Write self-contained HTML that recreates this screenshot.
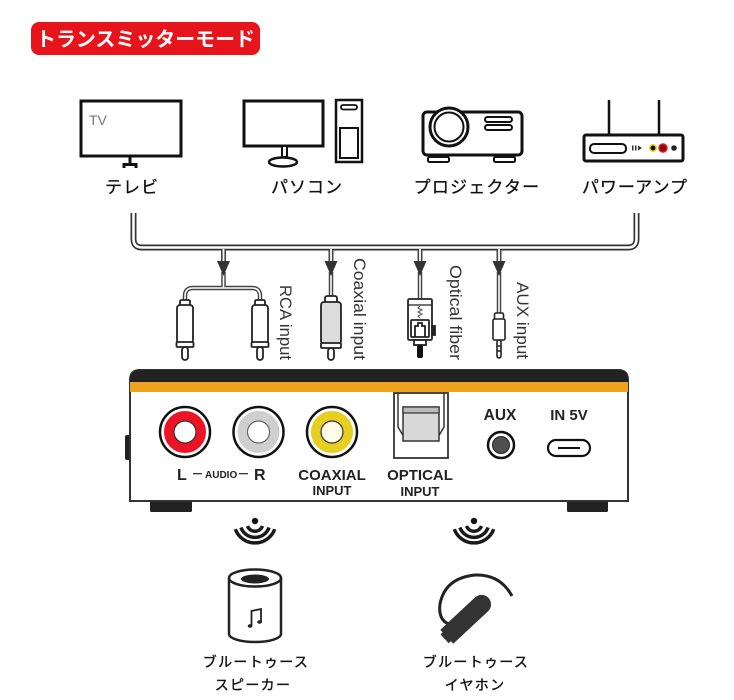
<!DOCTYPE html>
<html><head><meta charset="utf-8"><style>
html,body{margin:0;padding:0;background:#fff;}
svg{display:block;}
.jp{font-family:"Liberation Sans","Noto Sans CJK JP",sans-serif;}
.en{font-family:"Liberation Sans",sans-serif;}
</style></head><body>
<svg width="734" height="700" viewBox="0 0 734 700" xmlns="http://www.w3.org/2000/svg">
<rect width="734" height="700" fill="#fff"/>

<!-- Title -->
<rect x="31" y="22" width="229" height="33" rx="8" fill="#e8141b"/>
<text x="36" y="46" class="jp" font-size="20" font-weight="bold" fill="#fff" textLength="219" lengthAdjust="spacingAndGlyphs">トランスミッターモード</text>

<!-- TV -->
<rect x="81" y="101" width="100" height="55" fill="#fff" stroke="#111" stroke-width="3"/>
<text x="89" y="125" class="en" font-size="14" fill="#777">TV</text>
<path d="M130,157 V164 M124,168 V164.5 H136 V168" fill="none" stroke="#111" stroke-width="3"/>
<g class="jp" font-size="17" fill="#111" stroke="#111" stroke-width="0.3" text-anchor="middle" letter-spacing="1">
<text x="132" y="193">テレビ</text>
<text x="307" y="193">パソコン</text>
<text x="477" y="193" letter-spacing="1.2">プロジェクター</text>
<text x="635" y="193">パワーアンプ</text>
</g>

<!-- PC -->
<rect x="244" y="101" width="79" height="45" fill="#fff" stroke="#111" stroke-width="3"/>
<rect x="282" y="146" width="5" height="11" fill="#fff" stroke="#111" stroke-width="2"/>
<ellipse cx="283" cy="162" rx="14" ry="4.5" fill="#fff" stroke="#111" stroke-width="2.5"/>
<rect x="336" y="100" width="26" height="62" fill="#fff" stroke="#111" stroke-width="2.5"/>
<rect x="341" y="105" width="16" height="4.5" rx="2" fill="#fff" stroke="#111" stroke-width="1.8"/>
<rect x="340" y="128" width="18" height="30" fill="#fff" stroke="#111" stroke-width="2"/>

<!-- Projector -->
<rect x="423" y="112" width="99" height="43" rx="4" fill="#fff" stroke="#111" stroke-width="3"/>
<circle cx="449" cy="127" r="19" fill="#fff" stroke="#111" stroke-width="3"/>
<circle cx="449" cy="127" r="14.5" fill="#fff" stroke="#111" stroke-width="2"/>
<rect x="485" y="117" width="27" height="5" rx="2.5" fill="#fff" stroke="#111" stroke-width="2"/>
<rect x="485" y="125" width="27" height="5" rx="2.5" fill="#fff" stroke="#111" stroke-width="2"/>
<rect x="428" y="157" width="21" height="5" rx="1.5" fill="#fff" stroke="#111" stroke-width="2"/>
<rect x="494" y="157" width="21" height="5" rx="1.5" fill="#fff" stroke="#111" stroke-width="2"/>

<!-- Amp -->
<line x1="609" y1="100" x2="609" y2="135" stroke="#111" stroke-width="2.5"/>
<line x1="659" y1="100" x2="659" y2="135" stroke="#111" stroke-width="2.5"/>
<rect x="584" y="135" width="99" height="26" rx="2" fill="#fff" stroke="#111" stroke-width="3"/>
<rect x="590" y="144" width="36" height="9" rx="4" fill="#fff" stroke="#111" stroke-width="2"/>
<rect x="632" y="145.5" width="1.5" height="5" fill="#333"/>
<rect x="635" y="145.5" width="1.5" height="5" fill="#333"/>
<path d="M638,145.5 L642,148 L638,150.5 Z" fill="#333"/>
<circle cx="653" cy="148" r="3.3" fill="#111" stroke="#f0e020" stroke-width="1.6"/>
<circle cx="663" cy="148" r="3.8" fill="#7a0010" stroke="#e01020" stroke-width="1.8"/>
<circle cx="674" cy="148" r="2.8" fill="#222"/>

<!-- Bracket pipe -->
<g fill="none" stroke-linecap="butt">
  <path d="M133.5,213 V239 Q133.5,247.5 142,247.5 H628 Q636.5,247.5 636.5,239 V213" stroke="#333" stroke-width="6"/>
  <path d="M133.5,213 V239 Q133.5,247.5 142,247.5 H628 Q636.5,247.5 636.5,239 V213" stroke="#fff" stroke-width="2.6"/>
  <path d="M223.5,250 V262 M331,250 V262 M420,250 V262 M499,250 V262" stroke="#444" stroke-width="5"/>
  <path d="M223.5,249 V263 M331,249 V263 M420,249 V263 M499,249 V263" stroke="#fff" stroke-width="1.8"/>
  <path d="M223.5,272 V288 M185,303 V296 Q185,288 193,288 H252 Q260,288 260,296 V303 M331,272 V297 M420,272 V300 M499,272 V314" stroke="#444" stroke-width="4.5"/>
  <path d="M223.5,271 V288 M185,304 V296 Q185,288 193,288 H252 Q260,288 260,296 V304 M331,271 V298 M420,271 V301 M499,271 V315" stroke="#fff" stroke-width="1.6"/>
</g>
<path d="M217,261 H230 L223.5,276 Z" fill="#333"/>
<path d="M324.5,261 H337.5 L331,276 Z" fill="#333"/>
<path d="M413.5,261 H426.5 L420,276 Z" fill="#333"/>
<path d="M492.5,261 H505.5 L499,276 Z" fill="#333"/>

<!-- RCA plugs -->
<g fill="#fff" stroke="#222" stroke-width="1.8">
  <rect x="180" y="300" width="10" height="6" rx="1.5"/>
  <rect x="177" y="305" width="16" height="38" rx="3"/>
  <rect x="176.5" y="342" width="17" height="5" rx="1"/>
  <rect x="182" y="347" width="6" height="13" rx="3"/>
  <rect x="255" y="300" width="10" height="6" rx="1.5"/>
  <rect x="252" y="305" width="16" height="38" rx="3"/>
  <rect x="251.5" y="342" width="17" height="5" rx="1"/>
  <rect x="257" y="347" width="6" height="13" rx="3"/>
  <rect x="325" y="296" width="12" height="7" rx="2"/>
  <rect x="321" y="302" width="20" height="42" rx="3" fill="#dcdcdc"/>
  <rect x="321" y="343" width="20" height="5" rx="1"/>
  <rect x="328" y="348" width="6" height="12" rx="3"/>
  <rect x="408" y="299" width="24" height="41" rx="1.5"/>
  <rect x="432" y="326" width="3" height="9" fill="#222"/>
  <rect x="411" y="320" width="18" height="17" rx="1"/>
  <path d="M415,337 V326 H418 V323 H422 V326 H425 V337" fill="none"/>
  <rect x="414" y="340" width="12" height="5"/>
</g>
<line x1="408" y1="305" x2="432" y2="305" stroke="#222" stroke-width="1.2"/>
<path d="M420,306 l-2,2 l4,2 l-4,2 l4,2 l-4,2 l2,2" fill="none" stroke="#555" stroke-width="1"/>
<rect x="417" y="345" width="6" height="13" rx="2" fill="#111"/>
<g fill="#fff" stroke="#222" stroke-width="1.6">
  <rect x="494.5" y="313" width="9" height="7" rx="1.5"/>
  <rect x="493" y="319" width="12" height="21" rx="1.5"/>
  <rect x="497" y="340" width="4" height="18" rx="2"/>
</g>
<line x1="496.5" y1="346" x2="501.5" y2="346" stroke="#222" stroke-width="1.5"/>
<line x1="496.5" y1="351" x2="501.5" y2="351" stroke="#222" stroke-width="1.5"/>

<!-- cable labels -->
<g class="en" font-size="17" fill="#333">
  <text transform="translate(280,285) rotate(90)" textLength="75" lengthAdjust="spacingAndGlyphs">RCA input</text>
  <text transform="translate(354,258) rotate(90)" textLength="102" lengthAdjust="spacingAndGlyphs">Coaxial input</text>
  <text transform="translate(450,265) rotate(90)" textLength="95" lengthAdjust="spacingAndGlyphs">Optical fiber</text>
  <text transform="translate(517,282) rotate(90)" textLength="77" lengthAdjust="spacingAndGlyphs">AUX input</text>
</g>

<!-- Device panel -->
<rect x="125" y="435" width="6" height="25" rx="2" fill="#222"/>
<rect x="150" y="499" width="42" height="13" rx="1.5" fill="#222"/>
<rect x="567" y="499" width="41" height="13" rx="1.5" fill="#222"/>
<path d="M130,501 V380 Q130,370 140,370 H618 Q628,370 628,380 V501 Z" fill="#fff" stroke="#333" stroke-width="2"/>
<path d="M130,382 V380 Q130,370 140,370 H618 Q628,370 628,380 V382 Z" fill="#222"/>
<rect x="130" y="382" width="498" height="10" fill="#eea21f"/>

<circle cx="185" cy="432" r="25" fill="#fff" stroke="#111" stroke-width="2.5"/>
<circle cx="185" cy="432" r="16" fill="none" stroke="#ec1324" stroke-width="10"/>
<circle cx="185" cy="432" r="11" fill="#fff" stroke="#333" stroke-width="1.2"/>
<circle cx="258.5" cy="432" r="25" fill="#fff" stroke="#111" stroke-width="2.5"/>
<circle cx="258.5" cy="432" r="16" fill="none" stroke="#cfcfcf" stroke-width="10"/>
<circle cx="258.5" cy="432" r="11" fill="#fff" stroke="#666" stroke-width="1.2"/>
<circle cx="332" cy="432" r="25" fill="#fff" stroke="#111" stroke-width="2.5"/>
<circle cx="332" cy="432" r="16" fill="none" stroke="#e7cf22" stroke-width="10"/>
<circle cx="332" cy="432" r="11" fill="#fffce8" stroke="#333" stroke-width="1.2"/>

<g class="en" font-weight="bold" fill="#222">
  <text x="177" y="480" font-size="16">L</text>
  <rect x="193" y="473" width="9" height="1.3" fill="#333"/>
  <text x="205" y="478" font-size="10">AUDIO</text>
  <rect x="239" y="473" width="9" height="1.3" fill="#333"/>
  <text x="254" y="480" font-size="16">R</text>
  <text x="332" y="480" font-size="15" text-anchor="middle">COAXIAL</text>
  <text x="332" y="495" font-size="13" text-anchor="middle">INPUT</text>
  <text x="420" y="480" font-size="15" text-anchor="middle">OPTICAL</text>
  <text x="420" y="496" font-size="13" text-anchor="middle">INPUT</text>
  <text x="500" y="420" font-size="15.5" text-anchor="middle">AUX</text>
  <text x="569" y="420" font-size="15" text-anchor="middle">IN 5V</text>
</g>

<rect x="394" y="393" width="54" height="65" fill="#fff" stroke="#333" stroke-width="1.8"/>
<path d="M398,393 V427 L404,437 M444,393 V427 L438,437" fill="none" stroke="#333" stroke-width="1.5"/>
<rect x="403" y="407" width="36" height="34" fill="#d8d8d8" stroke="#333" stroke-width="1.5"/>
<rect x="403" y="407" width="36" height="6" fill="#bbb" stroke="#333" stroke-width="1.2"/>

<circle cx="501" cy="445" r="13" fill="#fff" stroke="#111" stroke-width="2.5"/>
<circle cx="501" cy="445" r="8.5" fill="#505050" stroke="#222" stroke-width="1"/>

<rect x="548" y="440" width="42" height="16" rx="8" fill="#fff" stroke="#111" stroke-width="2.2"/>
<line x1="558" y1="448" x2="580" y2="448" stroke="#111" stroke-width="2"/>

<!-- Wifi icons -->
<g fill="none" stroke="#1a1a1a" stroke-width="3.5" stroke-linecap="butt">
  <path d="M247.5,526 A8,8 0 0 0 262.5,526"/>
  <path d="M240.9,527.5 A15,15 0 0 0 269.1,527.5"/>
  <path d="M235.3,529.2 A21,21 0 0 0 274.7,529.2"/>
  <path d="M466.5,526 A8,8 0 0 0 481.5,526"/>
  <path d="M459.9,527.5 A15,15 0 0 0 488.1,527.5"/>
  <path d="M454.3,529.2 A21,21 0 0 0 493.7,529.2"/>
</g>
<circle cx="255" cy="521" r="3.2" fill="#111"/>
<circle cx="474" cy="521" r="3.2" fill="#111"/>

<!-- Speaker -->
<path d="M229,578 V634 A26,8 0 0 0 281,634 V578" fill="#fff" stroke="#222" stroke-width="2.5"/>
<ellipse cx="255" cy="578" rx="26" ry="8.5" fill="#fff" stroke="#222" stroke-width="2.5"/>
<ellipse cx="255" cy="579" rx="14" ry="4.5" fill="#222"/>
<path d="M251.5,626 V611 L261,609 V622" fill="none" stroke="#222" stroke-width="1.8"/>
<ellipse cx="250" cy="626" rx="2.3" ry="1.8" fill="#222"/>
<ellipse cx="259.5" cy="622" rx="2.3" ry="1.8" fill="#222"/>

<!-- Earphone -->
<path d="M449,624 Q438,620 440,604 Q445,578 475,575 Q500,574 512,596" fill="none" stroke="#222" stroke-width="3"/>
<g transform="translate(468,617) rotate(-43)">
  <rect x="-28" y="-9.5" width="56" height="19" rx="9.5" fill="#333"/>
  <rect x="-29" y="-9.5" width="12" height="19" fill="#333"/>
  <rect x="-32" y="-6" width="4" height="12" fill="#333"/>
</g>

<!-- Bottom labels -->
<g class="jp" font-size="14" fill="#111" stroke="#111" stroke-width="0.35" text-anchor="middle" letter-spacing="1.3">
  <text x="256" y="667">ブルートゥース</text>
  <text x="253" y="690">スピーカー</text>
  <text x="476" y="667">ブルートゥース</text>
  <text x="475" y="690">イヤホン</text>
</g>
</svg>
</body></html>
